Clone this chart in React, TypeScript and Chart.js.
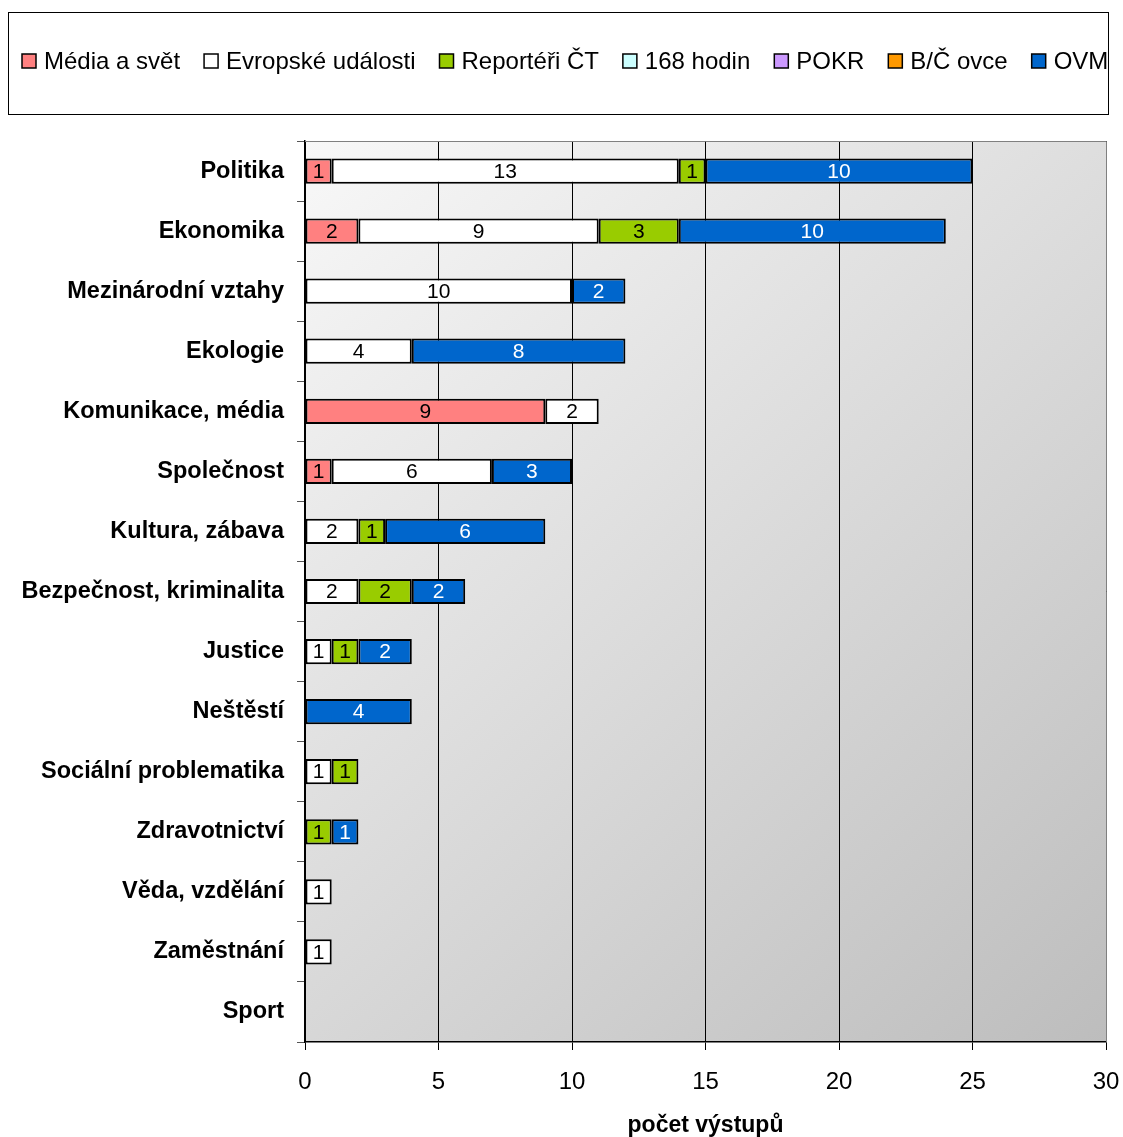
import React, { useEffect, useRef } from "react";
import { Chart, registerables } from "chart.js";

Chart.register(...registerables);

const categories = [
  "Politika",
  "Ekonomika",
  "Mezinárodní vztahy",
  "Ekologie",
  "Komunikace, média",
  "Společnost",
  "Kultura, zábava",
  "Bezpečnost, kriminalita",
  "Justice",
  "Neštěstí",
  "Sociální problematika",
  "Zdravotnictví",
  "Věda, vzdělání",
  "Zaměstnání",
  "Sport",
];

const seriesNames = ["Média a svět", "Evropské události", "Reportéři ČT", "168 hodin", "POKR", "B/Č ovce", "OVM"];
const seriesColors = ["#FF8080", "#FFFFFF", "#99CC00", "#CCFFFF", "#CC99FF", "#FF9900", "#0066CC"];
const labelColors = ["#000000", "#000000", "#000000", "#000000", "#000000", "#000000", "#FFFFFF"];

const mediaASvet = [1, 2, null, null, 9, 1, null, null, null, null, null, null, null, null, null];
const evropskeUdalosti = [13, 9, 10, 4, 2, 6, 2, 2, 1, null, 1, null, 1, 1, null];
const reporteriCT = [1, 3, null, null, null, null, 1, 2, 1, null, 1, 1, null, null, null];
const hodin168 = [null, null, null, null, null, null, null, null, null, null, null, null, null, null, null];
const pokr = [null, null, null, null, null, null, null, null, null, null, null, null, null, null, null];
const bcOvce = [null, null, null, null, null, null, null, null, null, null, null, null, null, null, null];
const ovm = [10, 10, 2, 8, null, 3, 6, 2, 2, 4, null, 1, null, null, null];

const seriesValues = [mediaASvet, evropskeUdalosti, reporteriCT, hodin168, pokr, bcOvce, ovm];

const xTicks = [0, 5, 10, 15, 20, 25, 30];
const xTitle = "počet výstupů";

const W = 1123;
const H = 1137;
const FONT = "'Liberation Sans', Arial, sans-serif";

export default function App() {
  const ref = useRef<HTMLCanvasElement | null>(null);

  useEffect(() => {
    document.body.style.margin = "0";
    const canvas = ref.current;
    if (!canvas) return;

    const bgPlugin = {
      id: "bgPlugin",
      beforeDraw(chart: any) {
        const { ctx, chartArea } = chart;
        ctx.save();
        ctx.fillStyle = "#ffffff";
        ctx.fillRect(0, 0, chart.width, chart.height);
        const g = ctx.createLinearGradient(chartArea.left, chartArea.top, chartArea.right, chartArea.bottom);
        g.addColorStop(0, "#f8f8f8");
        g.addColorStop(1, "#bdbdbd");
        ctx.fillStyle = g;
        ctx.fillRect(chartArea.left, chartArea.top, chartArea.right - chartArea.left, chartArea.bottom - chartArea.top);
        ctx.restore();
      },
      afterDraw(chart: any) {
        const { ctx, chartArea } = chart;
        ctx.save();
        ctx.strokeStyle = "#808080";
        ctx.lineWidth = 1;
        ctx.beginPath();
        ctx.moveTo(chartArea.left, chartArea.top + 0.5);
        ctx.lineTo(chartArea.right + 0.5, chartArea.top + 0.5);
        ctx.lineTo(chartArea.right + 0.5, chartArea.bottom);
        ctx.stroke();

        ctx.strokeStyle = "#000000";
        ctx.lineWidth = 1;
        ctx.strokeRect(8.5, 12.5, 1100, 102);

        ctx.font = `24px ${FONT}`;
        ctx.textBaseline = "middle";
        ctx.textAlign = "left";
        let x = 22;
        const y = 61;
        seriesNames.forEach((name, i) => {
          ctx.fillStyle = seriesColors[i];
          ctx.fillRect(x, y - 7, 14, 14);
          ctx.strokeStyle = "#000000";
          ctx.lineWidth = 1.5;
          ctx.strokeRect(x, y - 7, 14, 14);
          ctx.fillStyle = "#000000";
          ctx.fillText(name, x + 22, y + 1);
          x += 22 + ctx.measureText(name).width + 24;
        });

        ctx.font = `21px ${FONT}`;
        ctx.textAlign = "center";
        ctx.textBaseline = "middle";
        chart.data.datasets.forEach((ds: any, di: number) => {
          const meta = chart.getDatasetMeta(di);
          meta.data.forEach((bar: any, i: number) => {
            const v = ds.data[i];
            if (v === null || v === undefined || v === 0) return;
            const cx = (bar.x + bar.base) / 2;
            ctx.fillStyle = labelColors[di];
            ctx.fillText(String(v), cx, bar.y + 1);
          });
        });
        ctx.restore();
      },
    };

    const chart = new Chart(canvas, {
      type: "bar",
      data: {
        labels: categories,
        datasets: seriesNames.map((name, i) => ({
          label: name,
          data: seriesValues[i],
          backgroundColor: seriesColors[i],
          borderColor: "#000000",
          borderWidth: 2,
          borderSkipped: false,
          barPercentage: 0.42,
          categoryPercentage: 1,
        })),
      },
      options: {
        indexAxis: "y",
        animation: false,
        responsive: false,
        devicePixelRatio: 1,
        layout: { padding: { top: 141, right: 17, left: 0, bottom: 0 } },
        plugins: {
          legend: { display: false },
          tooltip: { enabled: false },
          title: { display: false },
        },
        scales: {
          x: {
            stacked: true,
            min: 0,
            max: 30,
            afterBuildTicks(scale: any) {
              scale.ticks = xTicks.map((v) => ({ value: v }));
            },
            afterFit(scale: any) {
              scale.height = 95;
              scale.paddingLeft = 0;
              scale.paddingRight = 0;
            },
            grid: {
              color: "#000000",
              lineWidth: 1,
              drawOnChartArea: true,
              drawTicks: true,
              tickLength: 8,
              tickColor: "#000000",
            },
            border: { display: true, color: "#000000", width: 1.5 },
            ticks: {
              color: "#000000",
              font: { family: FONT, size: 24 },
              padding: 18,
              maxRotation: 0,
            },
            title: {
              display: true,
              text: xTitle,
              color: "#000000",
              font: { family: FONT, size: 23, weight: "bold" },
              padding: { top: 0, bottom: -2 },
            },
          },
          y: {
            stacked: true,
            afterFit(scale: any) {
              scale.width = 305;
            },
            grid: {
              offset: true,
              drawOnChartArea: false,
              drawTicks: true,
              tickLength: 8,
              tickColor: "#555555",
              color: "#555555",
            },
            border: { display: true, color: "#000000", width: 1.5 },
            ticks: {
              color: "#000000",
              font: { family: FONT, size: 23.5, weight: "bold" },
              padding: 13,
              autoSkip: false,
            },
          },
        },
      },
      plugins: [bgPlugin],
    } as any);

    return () => chart.destroy();
  }, []);

  return (
    <div style={{ width: W, height: H }}>
      <canvas ref={ref} width={W} height={H} style={{ display: "block" }} />
    </div>
  );
}
